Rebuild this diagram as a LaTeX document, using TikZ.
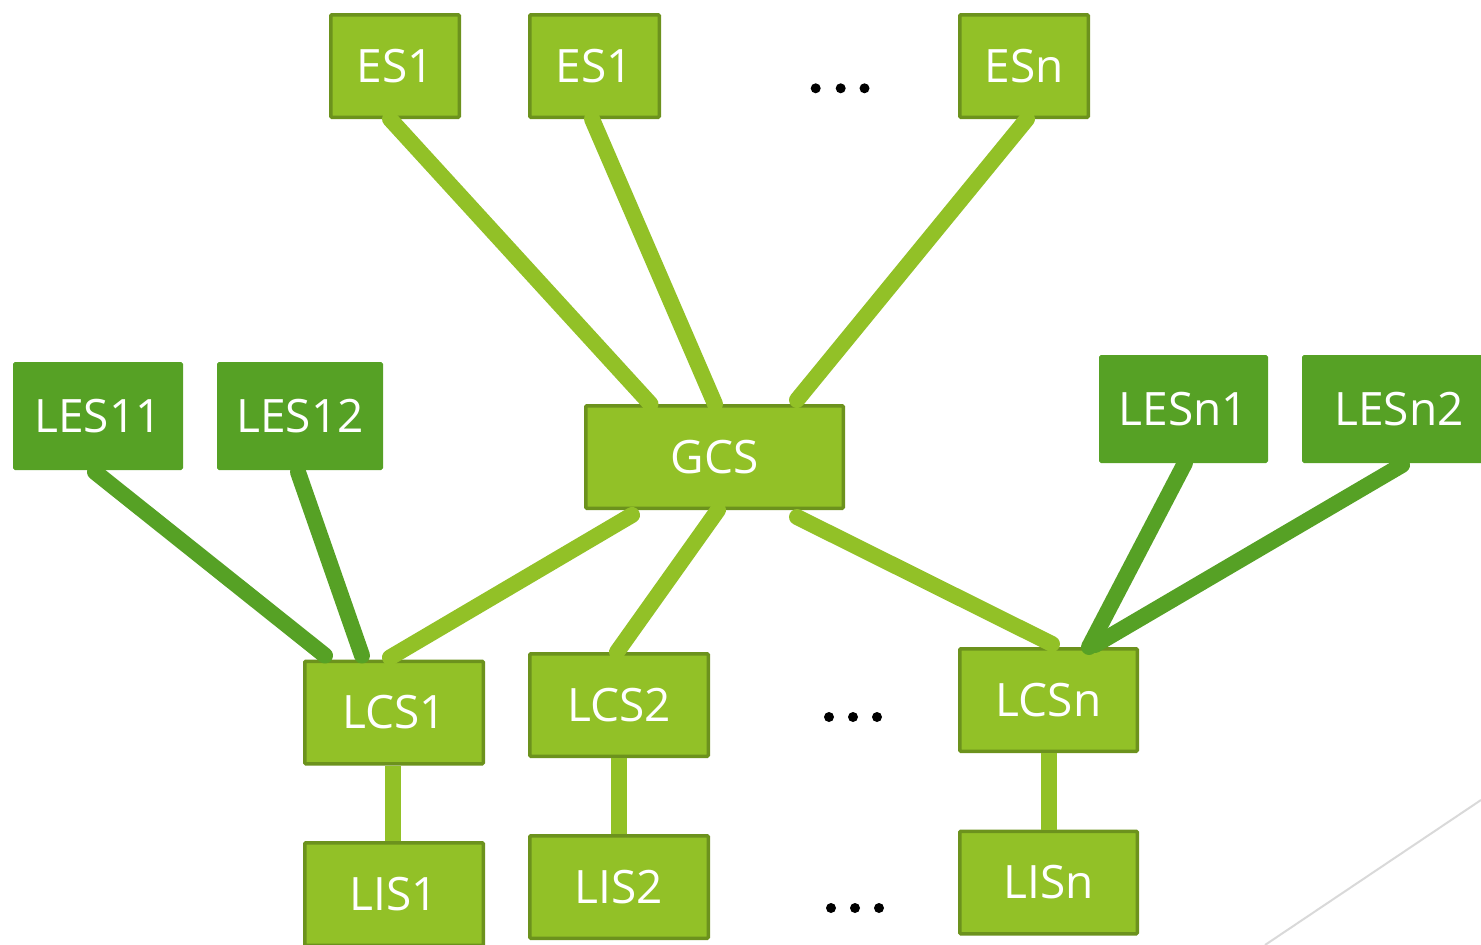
\documentclass[tikz,border=0pt]{standalone}
\usepackage{fontspec}
\setmainfont{Open Sans}
\definecolor{leaf}{RGB}{146,193,39}
\definecolor{leafedge}{RGB}{108,146,29}
\definecolor{moss}{RGB}{86,161,37}
\definecolor{rule}{RGB}{217,217,217}
\tikzset{
  srv/.style={draw=leafedge, fill=leaf, line width=3.5pt, rounded corners=1pt,
    text=white, font=\fontsize{46}{46}\selectfont, inner sep=0pt,
    minimum width=#1, minimum height=102.5pt},
  srv/.default=128.5pt,
  les/.style={draw=moss, fill=moss, line width=1pt, rounded corners=1.5pt,
    text=white, font=\fontsize{46}{46}\selectfont, inner sep=0pt,
    minimum width=#1, minimum height=107pt},
  link/.style={draw=leaf, line width=16pt, line cap=round},
  dlink/.style={draw=moss, line width=16pt, line cap=round},
  dotmark/.style={circle, fill=black, inner sep=0pt, minimum size=10pt},
}
\begin{document}
\begin{tikzpicture}[x=1pt,y=-1pt]
\useasboundingbox (0,0) rectangle (1481,945);
\begin{scope}
\clip (0,0) rectangle (1481,945);

% top row of servers
\node[srv] (es1a) at (395,66) {ES1};
\node[srv=129.5pt] (es1b) at (594.5,66) {ES1};
\node[srv] (esn) at (1024,66) {ESn};

% central server
\node[srv=257.5pt] (gcs) at (714.5,457) {GCS};

% local external servers
\node[les=169pt] (les11) at (98,416) {LES11};
\node[les=165pt] (les12) at (300,416) {LES12};
\node[les=168pt] (lesn1) at (1183.5,409) {LESn1};
\node[les=193pt] (lesn2) at (1399,409) {LESn2};

% local servers
\node[srv=178.5pt] (lcs1) at (394,712.5) {LCS1};
\node[srv=178.5pt] (lcs2) at (619,705) {LCS2};
\node[srv=177.5pt] (lcsn) at (1048.5,700) {LCSn};

\node[srv=178.5pt] (lis1) at (394,894) {LIS1};
\node[srv=178.5pt] (lis2) at (619,887) {LIS2};
\node[srv=177.5pt] (lisn) at (1048.5,882.5) {LISn};

% ellipses
\foreach \n/\x/\y in {a1/815.7/88.3, a2/840.7/88.3, a3/864.5/88.3,
                      b1/829/717, b2/853/717, b3/877/717,
                      c1/831/908, c2/855/908, c3/879/908}
  \node[dotmark] (dot\n) at (\x,\y) {};

% links to the central server
\draw[link] ([xshift=-5pt]es1a.south) -- ([xshift=-64pt]gcs.north);
\draw[link] ([xshift=-2.5pt]es1b.south) -- ([xshift=0.5pt]gcs.north);
\draw[link] ([xshift=3pt]esn.south) -- ([xshift=82.5pt,yshift=4pt]gcs.north);
\draw[link] ([xshift=-82.5pt,yshift=-5pt]gcs.south) -- ([xshift=-4pt,yshift=2pt]lcs1.north);
\draw[link] ([xshift=3.5pt]gcs.south) -- ([xshift=-2pt]lcs2.north);
\draw[link] ([xshift=82.5pt,yshift=-7pt]gcs.south) -- ([xshift=3.5pt,yshift=3pt]lcsn.north);

% local server to local client links
\draw[link, line cap=butt] ([xshift=-1pt]lcs1.south) -- ([xshift=-1pt]lis1.north);
\draw[link, line cap=butt] (lcs2.south) -- (lis2.north);
\draw[link, line cap=butt] (lcsn.south) -- (lisn.north);

% local external server links
\draw[dlink] ([xshift=-3pt,yshift=-2pt]les11.south) -- ([xshift=-69pt,yshift=4pt]lcs1.north);
\draw[dlink] ([xshift=-2pt,yshift=-2pt]les12.south) -- ([xshift=-32pt,yshift=4pt]lcs1.north);
\draw[dlink] ([xshift=1.5pt]lesn1.south) -- ([xshift=40.5pt]lcsn.north);
\draw[dlink] ([xshift=3pt,yshift=-2pt]lesn2.south) -- ([xshift=46.5pt,yshift=2pt]lcsn.north);

% corner rule
\coordinate (ruleA) at (1265,945);
\coordinate (ruleB) at (1481,800);
\draw[rule, line width=2pt] (ruleA) -- (ruleB);
\end{scope}
\end{tikzpicture}
\end{document}
